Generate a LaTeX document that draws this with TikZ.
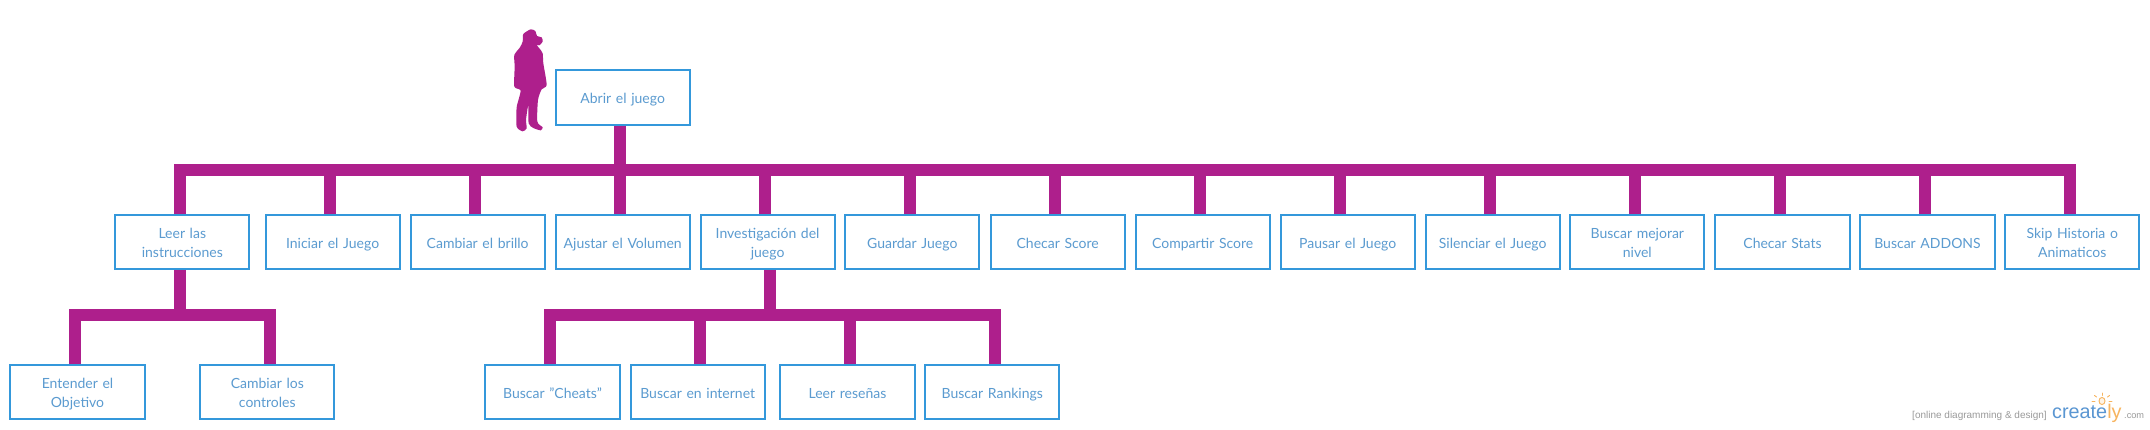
\documentclass[tikz,border=0pt]{standalone}
\usepackage{fontspec}
\setmainfont{Lato}
\newfontfamily\wmfont{Liberation Sans}
\definecolor{boxblue}{HTML}{3498DB}
\definecolor{txtblue}{HTML}{5B9BD0}
\definecolor{plum}{HTML}{AE1F8C}
\definecolor{wmgrey}{HTML}{9A9A9A}
\definecolor{wmblue}{HTML}{5A96D2}
\definecolor{wmorange}{HTML}{F7B45F}
\tikzset{
  tbox/.style={draw=boxblue,line width=2pt,fill=white,minimum width=134.2pt,minimum height=54.2pt,
    inner sep=0pt,align=center,text width=128pt,text=txtblue,font=\fontsize{14}{19}\selectfont,
    execute at begin node={\rule{0pt}{15pt}},execute at end node={\rule[-3pt]{0pt}{3pt}}},
  link/.style={draw=plum,line width=12pt,line cap=butt,line join=miter},
  wm/.style={inner sep=0pt,anchor=base west},
  ray/.style={draw=wmorange,line width=0.9pt,line cap=round}
}
\begin{document}
\begin{tikzpicture}[x=1pt,y=-1pt]
\useasboundingbox (0,0) rectangle (2150,430);
\fill[white] (0,0) rectangle (2150,430);
% silhouette
\begin{scope}[shift={(500,20)},x=0.3333pt,y=-0.3333pt]
\fill[plum] plot[smooth cycle,tension=0.4] coordinates {
(92,28)(106,33)(111,48)(125,52)(128,65)(118,76)(110,75)(118,85)(128,100)(130,130)(140,195)(125,208)(114,240)(112,305)(128,322)(122,331)(100,324)(86,310)(85,255)(78,300)(80,325)(68,334)(50,320)(50,262)(62,212)(43,200)(44,140)(43,105)(60,82)(68,65)(70,42)};
\end{scope}
% top row
\node[tbox] (root) at (622.7,97.5) {Abrir el juego};
\node[tbox] (t1) at (182.3,242.3) {Leer las\\instrucciones};
\node[tbox] (t2) at (332.6,242.3) {Iniciar el Juego};
\node[tbox] (t3) at (477.7,242.3) {Cambiar el brillo};
\node[tbox] (t4) at (622.7,242.3) {Ajustar el Volumen};
\node[tbox] (t5) at (767.6,242.3) {Investigación del\\juego};
\node[tbox] (t6) at (912.3,242.3) {Guardar Juego};
\node[tbox] (t7) at (1057.7,242.3) {Checar Score};
\node[tbox] (t8) at (1202.7,242.3) {Compartir Score};
\node[tbox] (t9) at (1347.7,242.3) {Pausar el Juego};
\node[tbox] (t10) at (1492.7,242.3) {Silenciar el Juego};
\node[tbox] (t11) at (1637.3,242.3) {Buscar mejorar\\nivel};
\node[tbox] (t12) at (1782.5,242.3) {Checar Stats};
\node[tbox] (t13) at (1927.5,242.3) {Buscar ADDONS};
\node[tbox] (t14) at (2072.3,242.3) {Skip Historia o\\Animaticos};
% bottom row
\node[tbox] (a1) at (77.5,392.3) {Entender el\\Objetivo};
\node[tbox] (a2) at (267.3,392.3) {Cambiar los\\controles};
\node[tbox] (b1) at (552.5,392.3) {Buscar "Cheats"};
\node[tbox] (b2) at (697.7,392.3) {Buscar en internet};
\node[tbox] (b3) at (847.5,392.3) {Leer reseñas};
\node[tbox] (b4) at (992.3,392.3) {Buscar Rankings};
% bus anchors
\coordinate (busT) at (620,170);
\coordinate (busA) at (180,315);
\coordinate (busB) at (770,315);
% connectors
\draw[link] (root.south -| busT) -- (busT);
\draw[link] (t1.north -| 180,0) -- (180,170) -- (2070,170) -- (t14.north -| 2070,0);
\foreach \n/\x in {t2/330,t3/475,t4/620,t5/765,t6/910,t7/1055,t8/1200,t9/1340,t10/1490,t11/1635,t12/1780,t13/1925}
  \draw[link] (\n.north -| \x,0) -- (\x,170);
\draw[link] (t1.south -| busA) -- (busA);
\draw[link] (a1.north -| 75,0) -- (75,315) -- (270,315) -- (a2.north -| 270,0);
\draw[link] (t5.south -| busB) -- (busB);
\draw[link] (b1.north -| 550,0) -- (550,315) -- (995,315) -- (b4.north -| 995,0);
\draw[link] (b2.north -| 700,0) -- (700,315);
\draw[link] (b3.north -| 850,0) -- (850,315);
% watermark
\node[wm,text=wmgrey,font=\wmfont\fontsize{10}{12}\selectfont] (w1) at (1912,418.5) {[online diagramming \& design]};
\node[wm,font=\wmfont\fontsize{19.8}{22}\selectfont] (w2) at (2052,418.5) {\textcolor{wmblue}{create}\textcolor{wmorange}{ly}};
\node[wm,text=wmgrey,font=\wmfont\fontsize{9.2}{11}\selectfont] (w3) at (2124,418.5) {.com};
% bulb
\draw[wmorange,line width=0.9pt,fill=wmorange!15] (2102,401) ellipse (3pt and 3.6pt);
\draw[ray] (2102,393) -- (2102,395.5);
\draw[ray] (2094.5,395.5) -- (2096.5,397);
\draw[ray] (2109.5,395.5) -- (2107.5,397);
\draw[ray] (2092,401.5) -- (2095,401.5);
\draw[ray] (2112,401.5) -- (2109,401.5);
\end{tikzpicture}
\end{document}
